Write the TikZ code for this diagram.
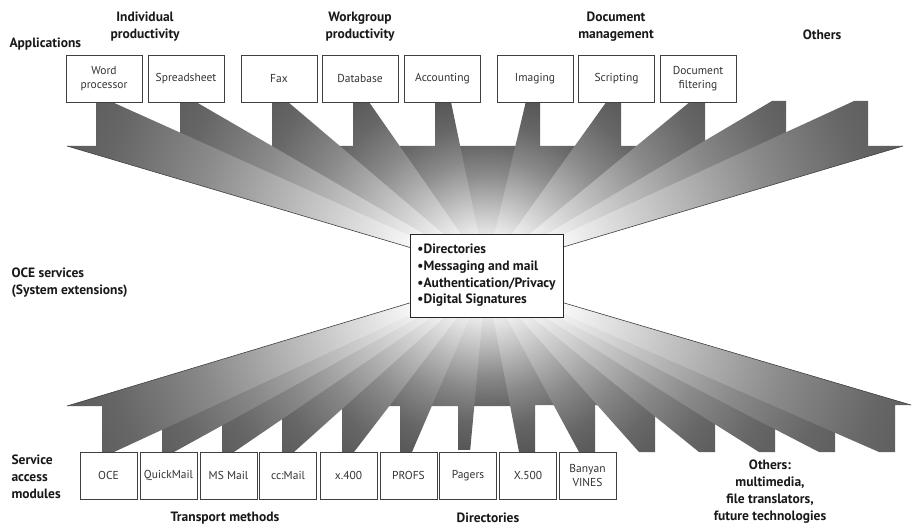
\documentclass[tikz,border=0pt]{standalone}
\usepackage{fontspec}
\setmainfont{PT Sans}
\pgfdeclareradialshading{glow}{\pgfpoint{0bp}{0bp}}{color(0bp)=(white); color(3.5bp)=(white); color(10bp)=(black!24); color(16bp)=(black!46); color(21bp)=(black!60); color(25bp)=(black!66); color(50bp)=(black!66)}
\begin{document}
\begin{tikzpicture}[x=1pt,y=-1pt,
  appbox/.style={draw=black!75, line width=0.7pt, fill=white, inner sep=1pt, outer sep=0pt,
    minimum width=76pt, minimum height=47pt, align=center, text=black!80,
    font=\fontsize{11.5}{14}\selectfont},
  modbox/.style={appbox, minimum width=57pt},
  grouplabel/.style={font=\bfseries\fontsize{13.5}{17}\selectfont, align=center, text=black!90},
  sidelabel/.style={grouplabel, align=left, anchor=west},
  edgeline/.style={black!75, line width=0.6pt}]
\useasboundingbox (0,0) rectangle (917,526);
\fill[white] (0,0) rectangle (917,526);
\coordinate (Ct) at (486,270);
\coordinate (Cb) at (486,280);
% ---------- top fan ----------
\begin{scope}
  \clip (435,146) -- (540,146) -- (Ct) -- cycle;
  \shade[shading=glow] (486-150,270-150) rectangle (486+150,270+150);
\end{scope}
\foreach \pa/\xa in {353/435,272/353,180/272,96/180,67/96}{
  \pgfmathsetmacro\rr{1.12*veclen(\xa-486,124-270)}
  \begin{scope}
    \clip (\pa,146) -- (\xa,146) -- (\xa,102) -- (\xa+16,102) -- (Ct) -- cycle;
    \shade[shading=glow] (486-\rr,270-\rr) rectangle (486+\rr,270+\rr);
  \end{scope}
}
\foreach \xa/\na in {540/621,621/705,705/786,786/868,868/903}{
  \pgfmathsetmacro\rr{1.12*veclen(\xa-486,124-270)}
  \begin{scope}
    \clip (\xa-14,101) -- (\xa,101) -- (\xa,146) -- (\na,146) -- (Ct) -- cycle;
    \shade[shading=glow] (486-\rr,270-\rr) rectangle (486+\rr,270+\rr);
  \end{scope}
}
\draw[edgeline] (67,146) -- (Ct);
\draw[edgeline] (903,146) -- (Ct);
% ---------- bottom fan ----------
\begin{scope}
  \clip (458,406) -- (535,406) -- (Cb) -- cycle;
  \shade[shading=glow] (486-150,280-150) rectangle (486+150,280+150);
\end{scope}
\foreach \pa/\xa in {400/458,342/400,282/342,222/282,162/222,102/162,67/102}{
  \pgfmathsetmacro\rr{1.12*veclen(\xa-486,429-280)}
  \begin{scope}
    \clip (\pa,406) -- (\xa,406) -- (\xa,452) -- (\xa+12,452) -- (Cb) -- cycle;
    \shade[shading=glow] (486-\rr,280-\rr) rectangle (486+\rr,280+\rr);
  \end{scope}
}
\foreach \xa/\na in {535/595,595/655,655/715,715/775,775/835,835/895,895/911}{
  \pgfmathsetmacro\rr{1.12*veclen(\xa-486,429-280)}
  \begin{scope}
    \clip (\xa-16,452) -- (\xa,452) -- (\xa,405) -- (\na,405) -- (Cb) -- cycle;
    \shade[shading=glow] (486-\rr,280-\rr) rectangle (486+\rr,280+\rr);
  \end{scope}
}
\draw[edgeline] (67,406) -- (Cb);
\draw[edgeline] (911,405) -- (Cb);
% ---------- central box ----------
\node[draw=black!85, line width=0.9pt, fill=white, minimum width=153pt, minimum height=83pt,
  inner sep=3pt, align=left, font=\bfseries\fontsize{13.5}{16.7}\selectfont, text=black!90]
  (oce) at (486.5,275.5) {•Directories\\•Messaging and mail\\•Authentication/Privacy\\•Digital Signatures};
% ---------- application boxes ----------
\node[appbox] (wp) at (104,78.5) {Word\\processor};
\node[appbox] (ss) at (186,78.5) {Spreadsheet};
\node[appbox] (fax) at (279,78.5) {Fax};
\node[appbox] (db) at (360,78.5) {Database};
\node[appbox] (acc) at (442.5,78.5) {Accounting};
\node[appbox] (img) at (535,78.5) {Imaging};
\node[appbox] (scr) at (616.5,78.5) {Scripting};
\node[appbox] (dfl) at (698,78.5) {Document\\filtering};
% ---------- service access modules ----------
\node[modbox] (moce) at (108.5,475.5) {OCE};
\node[modbox] (mqm) at (168.5,475.5) {QuickMail};
\node[modbox] (mms) at (228.5,475.5) {MS Mail};
\node[modbox] (mcc) at (288,475.5) {cc:Mail};
\node[modbox] (mx4) at (348.5,475.5) {x.400};
\node[modbox] (mpr) at (408.5,475.5) {PROFS};
\node[modbox] (mpg) at (468,475.5) {Pagers};
\node[modbox] (mx5) at (528,475.5) {X.500};
\node[modbox] (mbv) at (587.5,475.5) {Banyan\\VINES};
% ---------- labels ----------
\node[grouplabel] (gind) at (145,27) {Individual\\productivity};
\node[grouplabel] (gwrk) at (360,27) {Workgroup\\productivity};
\node[grouplabel] (gdoc) at (616,27) {Document\\management};
\node[grouplabel] (goth) at (822,35) {Others};
\node[sidelabel] (lapp) at (6,44) {Applications};
\node[sidelabel] (lsvc) at (8,283) {OCE services\\(System extensions)};
\node[sidelabel] (lsam) at (8,477) {Service\\access\\modules};
\node[grouplabel] (ltr) at (225,518) {Transport methods};
\node[grouplabel] (ldir) at (488,518) {Directories};
\node[grouplabel] (loth) at (770,492) {Others:\\multimedia,\\file translators,\\future technologies};
\end{tikzpicture}
\end{document}
